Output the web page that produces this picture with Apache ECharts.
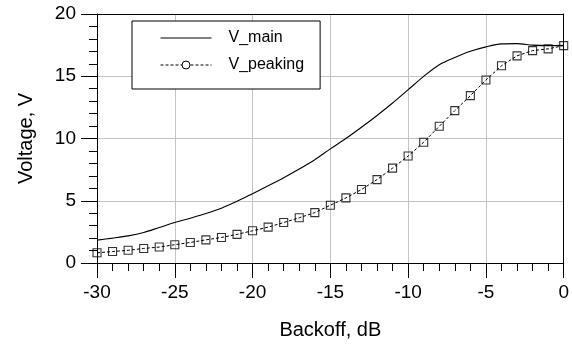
<!DOCTYPE html>
<html>
<head>
<meta charset="utf-8">
<script src="https://cdn.jsdelivr.net/npm/echarts@6/dist/echarts.min.js"></script>
<style>
html,body{margin:0;padding:0;background:#fff;}
#chart{width:572px;height:345px;}
</style>
</head>
<body>
<div id="chart"></div>
<script>
// Backoff (dB) at 1 dB steps
var backoff = [-30,-29,-28,-27,-26,-25,-24,-23,-22,-21,-20,-19,-18,-17,-16,-15,-14,-13,-12,-11,-10,-9,-8,-7,-6,-5,-4,-3,-2,-1,0];
var vMain = [1.84,2.0,2.18,2.45,2.85,3.25,3.6,3.97,4.4,4.95,5.57,6.2,6.85,7.55,8.3,9.17,10.0,10.9,11.85,12.85,13.92,14.99,15.92,16.5,17.0,17.36,17.6,17.62,17.5,17.46,17.48];
var vPeaking = [0.82,0.92,1.02,1.17,1.28,1.47,1.65,1.86,2.05,2.3,2.59,2.88,3.25,3.63,4.05,4.64,5.23,5.9,6.7,7.62,8.59,9.7,10.98,12.24,13.44,14.7,15.84,16.64,17.06,17.2,17.46];
var xTicks = {min:-30, max:0, step:5};
var yTicks = {min:0, max:20, step:5};
var seriesNames = ['V_main','V_peaking'];

function pairs(xs, ys){ return xs.map(function(x,i){ return [x, ys[i]]; }); }

var FONT = 'Arial, "Liberation Sans", sans-serif';
var frameAxis = {
  axisLine:{show:true, onZero:false, lineStyle:{color:'#000', width:1}},
  axisTick:{show:false}, minorTick:{show:false}, axisLabel:{show:false}, splitLine:{show:false}
};
var chart = echarts.init(document.getElementById('chart'), null, {renderer:'canvas'});
chart.setOption({
  animation:false,
  backgroundColor:'#fff',
  grid:{left:97, right:7, top:14, bottom:81},
  legend:{
    orient:'vertical', left:132, top:21,
    itemWidth:51, itemHeight:10, itemGap:11,
    padding:[9,16,16,28],
    borderColor:'#000', borderWidth:1, backgroundColor:'#fff',
    textStyle:{fontSize:16, color:'#000', fontFamily:FONT, padding:[0,0,0,12]},
    data:[
      {name:seriesNames[0], icon:'path://M0,0H51V1H0Z', itemStyle:{color:'#000', borderWidth:0}},
      {name:seriesNames[1], itemStyle:{color:'#fff', borderColor:'#000', borderWidth:1}, lineStyle:{width:1, type:[3,2]}}
    ],
    selectedMode:false
  },
  xAxis:[{
    type:'value', min:xTicks.min, max:xTicks.max, interval:xTicks.step, position:'bottom',
    name:'Backoff, dB', nameLocation:'middle', nameGap:57,
    nameTextStyle:{fontSize:20, color:'#000', fontFamily:FONT},
    axisLine:{show:true, onZero:false, lineStyle:{color:'#000', width:1}},
    axisTick:{show:true, inside:false, length:15, lineStyle:{color:'#000'}},
    minorTick:{show:true, splitNumber:5, length:8, lineStyle:{color:'#000'}},
    axisLabel:{fontSize:19, color:'#000', fontFamily:FONT, margin:20},
    splitLine:{show:true, lineStyle:{color:'#c4c4c4', width:1}}
  }, Object.assign({type:'value', min:xTicks.min, max:xTicks.max, interval:xTicks.step, position:'top'}, frameAxis)],
  yAxis:[{
    type:'value', min:yTicks.min, max:yTicks.max, interval:yTicks.step, position:'left',
    name:'Voltage, V', nameLocation:'middle', nameGap:61,
    nameTextStyle:{fontSize:20, color:'#000', fontFamily:FONT},
    axisLine:{show:true, onZero:false, lineStyle:{color:'#000', width:1}},
    axisTick:{show:true, inside:false, length:16, lineStyle:{color:'#000'}},
    minorTick:{show:true, splitNumber:5, length:8, lineStyle:{color:'#000'}},
    axisLabel:{fontSize:19, color:'#000', fontFamily:FONT, margin:21},
    splitLine:{show:true, lineStyle:{color:'#c4c4c4', width:1}}
  }, Object.assign({type:'value', min:yTicks.min, max:yTicks.max, interval:yTicks.step, position:'right'}, frameAxis)],
  series:[
    {
      name:seriesNames[0], type:'line', data:pairs(backoff, vMain),
      symbol:'none', smooth:0.3, color:'#000',
      lineStyle:{color:'#000', width:1.1}
    },
    {
      name:seriesNames[1], type:'line', data:pairs(backoff, vPeaking),
      symbol:'none', color:'#000',
      itemStyle:{color:'#fff', borderColor:'#000', borderWidth:1},
      lineStyle:{color:'#000', width:1, type:[3,2]}
    },
    {
      name:'V_peaking_pts', type:'scatter', data:pairs(backoff, vPeaking),
      symbol:'rect', symbolSize:8,
      itemStyle:{color:'rgba(255,255,255,0)', borderColor:'#000', borderWidth:1.1}
    }
  ]
});
</script>
</body>
</html>
